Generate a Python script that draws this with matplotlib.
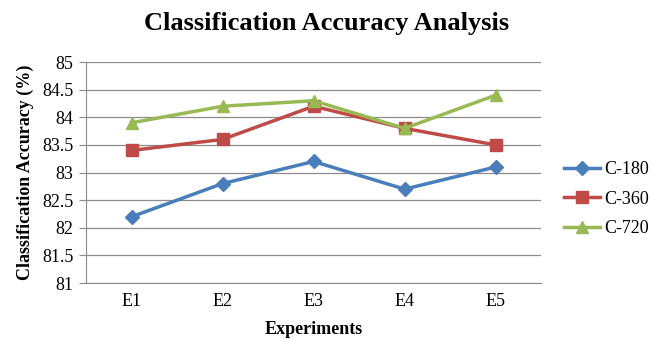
import matplotlib.pyplot as plt

categories = ["E1", "E2", "E3", "E4", "E5"]
c180 = [82.2, 82.8, 83.2, 82.7, 83.1]
c360 = [83.4, 83.6, 84.2, 83.8, 83.5]
c720 = [83.9, 84.2, 84.3, 83.8, 84.4]
yticks = [81, 81.5, 82, 82.5, 83, 83.5, 84, 84.5, 85]
ytick_labels = ["81", "81.5", "82", "82.5", "83", "83.5", "84", "84.5", "85"]

plt.rcParams['font.family'] = ['Liberation Serif', 'DejaVu Serif']

fig = plt.figure(figsize=(6.53, 3.39), dpi=100)
ax = fig.add_axes([0.1317, 0.165, 0.697, 0.652])

x = range(len(categories))
ax.plot(x, c180, color="#4A7EBB", lw=2.5, marker="D", ms=7, label="C-180")
ax.plot(x, c360, color="#BE4B48", lw=2.5, marker="s", ms=8, label="C-360")
ax.plot(x, c720, color="#98B954", lw=2.5, marker="^", ms=8, label="C-720")

ax.set_xlim(-0.5, 4.5)
ax.set_ylim(81, 85)
ax.set_yticks(yticks)
ax.set_yticklabels(ytick_labels, fontsize=13)
ax.set_xticks(list(x))
ax.set_xticklabels(categories, fontsize=13)
ax.yaxis.grid(True, color="#8c8c8c", lw=0.9)
ax.set_axisbelow(True)
for s in ["top", "right"]:
    ax.spines[s].set_visible(False)
for s in ["left", "bottom"]:
    ax.spines[s].set_color("#8c8c8c")
ax.tick_params(axis="y", color="#8c8c8c", length=5, pad=4)
ax.tick_params(axis="x", length=0, pad=7)

ax.set_xlabel("Experiments", fontsize=13, fontweight="bold", labelpad=8)
ax.set_ylabel("Classification Accuracy (%)", fontsize=13, fontweight="bold", labelpad=6)
fig.suptitle("Classification Accuracy Analysis", fontsize=19, fontweight="bold", y=0.965)

ax.legend(loc="center left", bbox_to_anchor=(1.015, 0.38), frameon=False,
          fontsize=13, handlelength=2.0, handletextpad=0.2, labelspacing=0.7)

fig.savefig("out.png", dpi=100)
